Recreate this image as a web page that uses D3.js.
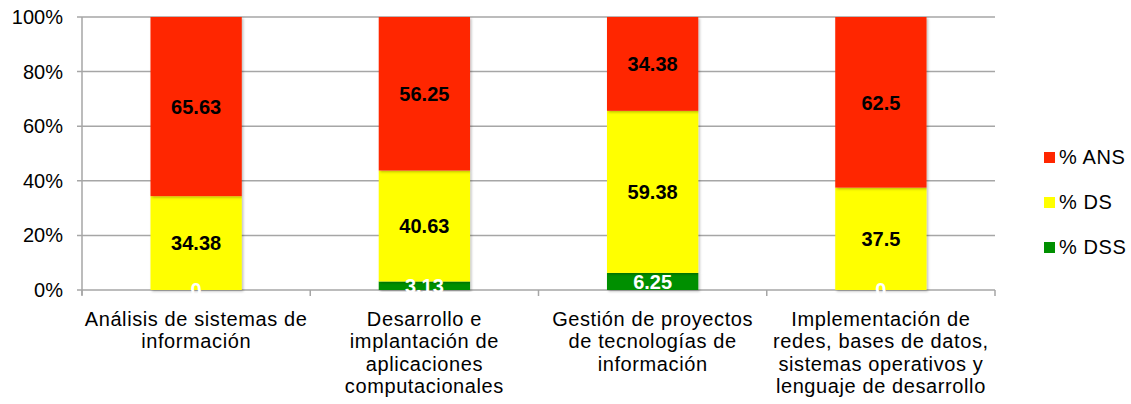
<!DOCTYPE html>
<html>
<head>
<meta charset="utf-8">
<script src="https://cdn.jsdelivr.net/npm/d3@7"></script>
<style>
body { margin: 0; background: #fff; }
text { font-family: "Liberation Sans", Arial, sans-serif; }
</style>
</head>
<body>
<div class="chart"></div>
<script>
var categories = [
  ["Análisis de sistemas de", "información"],
  ["Desarrollo e", "implantación de", "aplicaciones", "computacionales"],
  ["Gestión de proyectos", "de tecnologías de", "información"],
  ["Implementación de", "redes, bases de datos,", "sistemas operativos y", "lenguaje de desarrollo"]
];
var seriesNames = ["% DSS", "% DS", "% ANS"];
var dss = [0, 3.13, 6.25, 0];
var ds = [34.38, 40.63, 59.38, 37.5];
var ans = [65.63, 56.25, 34.38, 62.5];
var yTicks = [0, 20, 40, 60, 80, 100];

var colors = {"% ANS": "#ff2600", "% DS": "#ffff00", "% DSS": "#008f00"};
var labelColors = {"% ANS": "#000", "% DS": "#000", "% DSS": "#fff"};
var fs = 20;

var margin = {top: 17, right: 136, bottom: 114, left: 82},
    width = 1131 - margin.left - margin.right,
    height = 404 - margin.top - margin.bottom;

var svg = d3.select(".chart").append("svg")
    .attr("width", 1131)
    .attr("height", 404);

var defs = svg.append("defs");
var f = defs.append("filter").attr("id", "shadow").attr("x", "-10%").attr("y", "-10%").attr("width", "130%").attr("height", "130%");
f.append("feDropShadow").attr("dx", 1.5).attr("dy", 1.5).attr("stdDeviation", 1.2).attr("flood-color", "#000").attr("flood-opacity", 0.25);

var g = svg.append("g").attr("transform", "translate(" + margin.left + "," + margin.top + ")");

var idx = d3.range(categories.length);
var x = d3.scaleBand().domain(idx).range([0, width]).paddingInner(0.6).paddingOuter(0.3);
var xb = d3.scaleBand().domain(idx).range([0, width]);
var y = d3.scaleLinear().domain([0, 100]).range([height, 0]);

// gridlines
g.selectAll(".grid").data(yTicks).enter().append("line")
  .attr("x1", -5).attr("x2", width)
  .attr("y1", function(d) { return y(d); }).attr("y2", function(d) { return y(d); })
  .attr("stroke", "#a6a6a6").attr("stroke-width", 1.5);

// y axis line
g.append("line").attr("x1", 0).attr("x2", 0).attr("y1", 0).attr("y2", height + 5)
  .attr("stroke", "#a6a6a6").attr("stroke-width", 1.5);

// x ticks at category boundaries
g.selectAll(".xtick").data(d3.range(categories.length + 1)).enter().append("line")
  .attr("x1", function(d) { return d * xb.step(); }).attr("x2", function(d) { return d * xb.step(); })
  .attr("y1", height).attr("y2", height + 6)
  .attr("stroke", "#a6a6a6").attr("stroke-width", 1.5);

g.selectAll(".ylab").data(yTicks).enter().append("text")
  .attr("x", -19).attr("y", function(d) { return y(d); }).attr("dy", "0.35em")
  .attr("text-anchor", "end").attr("font-size", fs).attr("fill", "#000")
  .text(function(d) { return d + "%"; });

var table = idx.map(function(i) {
  return {"% DSS": dss[i], "% DS": ds[i], "% ANS": ans[i]};
});
var stack = d3.stack().keys(seriesNames)(table);

var layers = g.selectAll(".layer").data(stack).enter().append("g");
layers.selectAll("rect").data(function(s) { return s.map(function(d, i) { return {key: s.key, i: i, y0: d[0], y1: d[1]}; }); })
  .enter().append("rect")
  .attr("x", function(d) { return x(d.i); })
  .attr("width", x.bandwidth())
  .attr("y", function(d) { return y(d.y1); })
  .attr("height", function(d) { return y(d.y0) - y(d.y1); })
  .attr("fill", function(d) { return colors[d.key]; })
  .attr("filter", "url(#shadow)");

var labels = g.append("g");
stack.forEach(function(s) {
  s.forEach(function(d, i) {
    labels.append("text")
      .attr("x", x(i) + x.bandwidth() / 2)
      .attr("y", y((d[0] + d[1]) / 2))
      .attr("dy", "0.36em")
      .attr("text-anchor", "middle")
      .attr("font-size", fs).attr("font-weight", "bold")
      .attr("fill", labelColors[s.key])
      .text(d.data[s.key]);
  });
});

// category labels
var cl = g.selectAll(".cat").data(categories).enter().append("text")
  .attr("text-anchor", "middle").attr("font-size", fs).attr("fill", "#000")
  .attr("letter-spacing", 0.6)
  .attr("transform", function(d, i) { return "translate(" + (xb(i) + xb.bandwidth() / 2) + "," + (height + 36) + ")"; });
cl.selectAll("tspan").data(function(d) { return d; }).enter().append("tspan")
  .attr("x", 0).attr("y", function(d, i) { return i * 22.3; })
  .text(function(d) { return d; });

// legend
var legend = svg.append("g").attr("transform", "translate(1044,157)");
var lg = legend.selectAll("g").data(seriesNames.slice().reverse()).enter().append("g")
  .attr("transform", function(d, i) { return "translate(0," + i * 45 + ")"; });
lg.append("rect").attr("x", 0).attr("y", -5).attr("width", 11).attr("height", 11)
  .attr("fill", function(d) { return colors[d]; });
lg.append("text").attr("x", 15).attr("y", 0).attr("dy", "0.35em")
  .attr("letter-spacing", 0.6)
  .attr("font-size", fs).attr("fill", "#000").text(function(d) { return d; });
</script>
</body>
</html>
